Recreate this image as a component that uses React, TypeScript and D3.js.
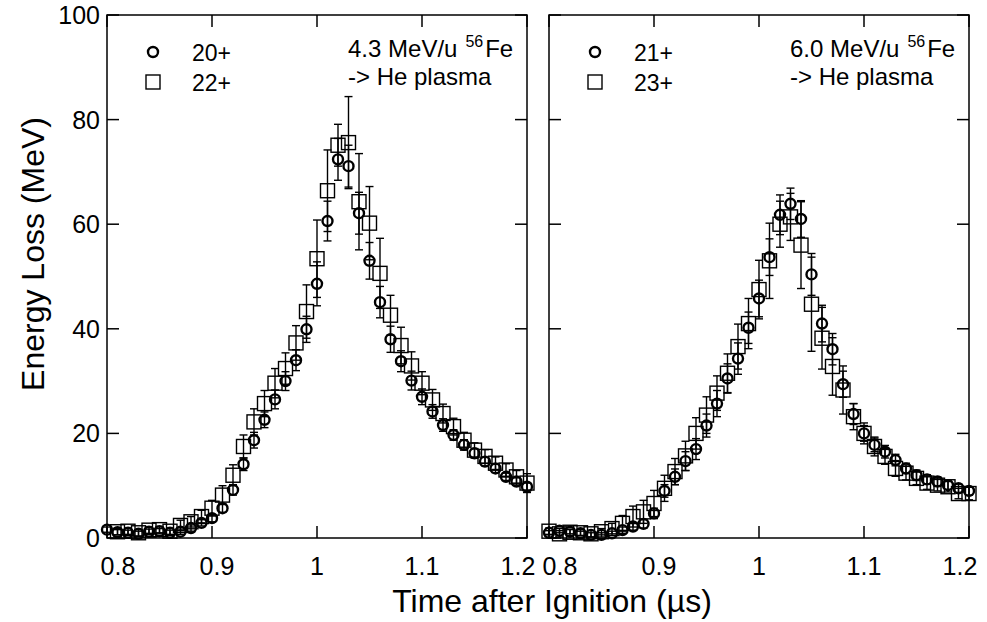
import React from 'react';
import * as d3 from 'd3';

const W = 987;
const H = 622;
const FONT = '"Liberation Sans", Arial, Helvetica, sans-serif';

// time grid (µs)
const TIME = [
  0.8, 0.81, 0.82, 0.83, 0.84, 0.85, 0.86, 0.87, 0.88, 0.89,
  0.9, 0.91, 0.92, 0.93, 0.94, 0.95, 0.96, 0.97, 0.98, 0.99,
  1.0, 1.01, 1.02, 1.03, 1.04, 1.05, 1.06, 1.07, 1.08, 1.09,
  1.1, 1.11, 1.12, 1.13, 1.14, 1.15, 1.16, 1.17, 1.18, 1.19, 1.2,
];
const TIME_FROM_081 = TIME.slice(1);

// left panel: 4.3 MeV/u
const LOSS_20 = [
  1.6, 1.1, 1.0, 0.8, 1.2, 1.3, 1.0, 1.2, 1.9, 2.9,
  3.8, 5.7, 9.2, 14.1, 18.7, 22.6, 26.5, 30.0, 34.0, 39.9,
  48.6, 60.6, 72.4, 71.1, 62.1, 53.0, 45.1, 38.0, 33.8, 30.1,
  27.0, 24.2, 21.6, 19.7, 17.8, 16.2, 14.6, 13.3, 11.7, 10.8, 9.8,
];
const ERR_20 = [
  0.5, 0.5, 0.5, 0.5, 0.5, 0.5, 0.5, 0.5, 0.6, 0.6,
  0.7, 0.8, 1.0, 1.2, 1.5, 1.5, 1.8, 1.8, 2.0, 2.5,
  4.2, 3.8, 4.0, 4.0, 4.0, 3.5, 3.0, 2.5, 2.0, 1.8,
  1.5, 1.3, 1.2, 1.0, 1.0, 0.9, 0.8, 0.8, 0.7, 0.7, 0.7,
];
const LOSS_22 = [
  1.2, 1.3, 1.0, 1.5, 1.6, 1.3, 2.4, 3.1, 4.1,
  5.7, 8.2, 12.0, 17.5, 22.2, 25.7, 29.6, 32.4, 37.3, 43.3,
  53.4, 66.4, 75.1, 75.6, 64.3, 60.2, 50.6, 42.6, 36.8, 32.9,
  29.6, 26.4, 23.8, 21.3, 18.7, 16.8, 15.6, 14.3, 13.0, 11.7, 10.5,
];
const ERR_22 = [
  0.6, 0.6, 0.6, 0.6, 0.6, 0.6, 1.0, 1.0, 1.2,
  1.5, 1.8, 2.0, 2.2, 2.5, 2.5, 2.8, 3.0, 3.3, 5.1,
  7.4, 7.8, 4.0, 8.8, 9.2, 7.0, 6.7, 3.8, 3.5, 2.7,
  2.2, 2.0, 1.8, 1.6, 1.5, 1.4, 1.3, 1.2, 1.2, 1.2, 1.8,
];

// right panel: 6.0 MeV/u
const LOSS_21 = [
  1.0, 1.4, 1.2, 0.9, 0.6, 0.6, 0.9, 1.5, 2.2, 2.7,
  4.7, 9.0, 11.7, 14.7, 17.0, 21.5, 25.7, 30.5, 34.3, 40.2,
  45.8, 53.7, 61.8, 63.9, 61.0, 50.4, 41.0, 36.1, 29.4, 23.7,
  20.0, 17.8, 16.5, 14.9, 13.3, 12.0, 11.2, 10.8, 10.1, 9.5, 9.0,
];
const ERR_21 = [
  0.4, 0.4, 0.4, 0.4, 0.4, 0.4, 0.4, 0.6, 0.7, 0.8,
  1.0, 1.2, 1.5, 1.8, 2.0, 2.2, 2.5, 2.8, 3.0, 3.0,
  3.5, 3.5, 3.8, 3.0, 3.5, 4.0, 3.5, 3.0, 2.5, 2.0,
  1.5, 1.3, 1.2, 1.1, 1.0, 1.0, 0.9, 0.9, 0.8, 0.8, 0.8,
];
const LOSS_23 = [
  1.3, 0.8, 1.1, 1.0, 0.8, 1.2, 1.8, 2.8, 4.1, 5.0,
  6.6, 9.5, 12.7, 15.7, 20.0, 23.5, 27.7, 31.5, 36.6, 41.0,
  47.5, 53.0, 60.0, 61.4, 56.0, 44.7, 38.2, 32.8, 28.3, 23.2,
  20.0, 17.5, 15.6, 13.3, 12.4, 11.4, 10.5, 10.1, 9.8, 8.5, 8.5,
];
const ERR_23 = [
  0.6, 0.6, 0.6, 0.6, 0.6, 0.6, 1.0, 1.5, 2.0, 2.2,
  2.5, 2.5, 2.5, 2.8, 3.0, 3.5, 3.3, 3.7, 4.3, 4.8,
  5.6, 7.2, 4.4, 4.5, 8.3, 9.0, 5.9, 5.5, 4.6, 2.5,
  2.0, 1.8, 1.5, 1.5, 1.3, 1.2, 1.2, 1.1, 1.0, 1.0, 1.2,
];

const X_TICKS = [0.8, 0.9, 1.0, 1.1, 1.2];
const X_TICK_LABELS = ['0.8', '0.9', '1', '1.1', '1.2'];
const X_LABEL_NUDGE = [11, 5, 0, 0, -9];
const Y_TICKS = [0, 20, 40, 60, 80, 100];

type Series = { label: string; shape: 'circle' | 'square'; t: number[]; y: number[]; err: number[] };

const PANELS: { left: number; energy: string; series: Series[]; yLabels: boolean }[] = [
  {
    left: 107,
    energy: '4.3',
    yLabels: true,
    series: [
      { label: '20+', shape: 'circle', t: TIME, y: LOSS_20, err: ERR_20 },
      { label: '22+', shape: 'square', t: TIME_FROM_081, y: LOSS_22, err: ERR_22 },
    ],
  },
  {
    left: 549,
    energy: '6.0',
    yLabels: false,
    series: [
      { label: '21+', shape: 'circle', t: TIME, y: LOSS_21, err: ERR_21 },
      { label: '23+', shape: 'square', t: TIME, y: LOSS_23, err: ERR_23 },
    ],
  },
];

const PANEL_W = 420;
const TOP = 15;
const BOTTOM = 538;
const TICK = 12;

function Marker({ shape, cx, cy }: { shape: string; cx: number; cy: number }) {
  if (shape === 'circle') {
    return <circle cx={cx} cy={cy} r={5} fill="none" stroke="#000" strokeWidth={2.4} />;
  }
  return <rect x={cx - 7} y={cy - 7} width={14} height={14} fill="none" stroke="#000" strokeWidth={1.4} />;
}

function Panel({ left, energy, series, yLabels }: (typeof PANELS)[number]) {
  const x = d3.scaleLinear().domain([0.8, 1.2]).range([left, left + PANEL_W]);
  const y = d3.scaleLinear().domain([0, 100]).range([BOTTOM, TOP]);
  const right = left + PANEL_W;
  return (
    <g>
      {/* error bars */}
      {series.map((s) =>
        s.t.map((t, i) => {
          const px = x(t);
          const y1 = y(s.y[i] + s.err[i]);
          const y2 = y(Math.max(0, s.y[i] - s.err[i]));
          return (
            <g key={s.label + 'e' + i} stroke="#000" strokeWidth={1.4}>
              <line x1={px} x2={px} y1={y1} y2={y2} />
              <line x1={px - 4} x2={px + 4} y1={y1} y2={y1} />
              <line x1={px - 4} x2={px + 4} y1={y2} y2={y2} />
            </g>
          );
        })
      )}
      {/* markers */}
      {series.map((s) =>
        s.t.map((t, i) => <Marker key={s.label + 'm' + i} shape={s.shape} cx={x(t)} cy={y(s.y[i])} />)
      )}
      {/* frame */}
      <rect x={left} y={TOP} width={PANEL_W} height={BOTTOM - TOP} fill="none" stroke="#000" strokeWidth={1.5} />
      {X_TICKS.map((v, i) => (
        <g key={'xt' + i} stroke="#000" strokeWidth={1.5}>
          <line x1={x(v)} x2={x(v)} y1={BOTTOM} y2={BOTTOM - TICK} />
          <line x1={x(v)} x2={x(v)} y1={TOP} y2={TOP + TICK} />
        </g>
      ))}
      {Y_TICKS.map((v, i) => (
        <g key={'yt' + i} stroke="#000" strokeWidth={1.5}>
          <line x1={left} x2={left + TICK} y1={y(v)} y2={y(v)} />
          <line x1={right} x2={right - TICK} y1={y(v)} y2={y(v)} />
        </g>
      ))}
      {X_TICKS.map((v, i) => (
        <text key={'xl' + i} x={x(v) + X_LABEL_NUDGE[i]} y={575} textAnchor="middle" fontSize={25}>
          {X_TICK_LABELS[i]}
        </text>
      ))}
      {yLabels &&
        Y_TICKS.map((v, i) => (
          <text key={'yl' + i} x={left - 7} y={y(v) + 9} textAnchor="end" fontSize={25}>
            {String(v)}
          </text>
        ))}
      {/* legend */}
      {series.map((s, i) => (
        <g key={'lg' + i}>
          <Marker shape={s.shape} cx={left + 46} cy={52 + i * 30} />
          <text x={left + 85} y={61 + i * 30} fontSize={23}>
            {s.label}
          </text>
        </g>
      ))}
      <text x={left + 241} y={57} fontSize={24}>
        {energy} MeV/u
        <tspan dx={8} dy={-10} fontSize={16}>56</tspan>
        <tspan dx={2} dy={10}>Fe</tspan>
      </text>
      <text x={left + 241} y={85} fontSize={24}>
        {'-> He plasma'}
      </text>
    </g>
  );
}

export default function App() {
  return (
    <svg
      width={W}
      height={H}
      viewBox={`0 0 ${W} ${H}`}
      style={{ position: 'absolute', left: 0, top: 0, background: '#fff', fontFamily: FONT }}
    >
      <rect width={W} height={H} fill="#fff" />
      {PANELS.map((p, i) => (
        <Panel key={i} {...p} />
      ))}
      <text transform={`translate(44, 254) rotate(-90)`} textAnchor="middle" fontSize={32}>
        Energy Loss (MeV)
      </text>
      <text x={552} y={612} textAnchor="middle" fontSize={32}>
        Time after Ignition (µs)
      </text>
    </svg>
  );
}
